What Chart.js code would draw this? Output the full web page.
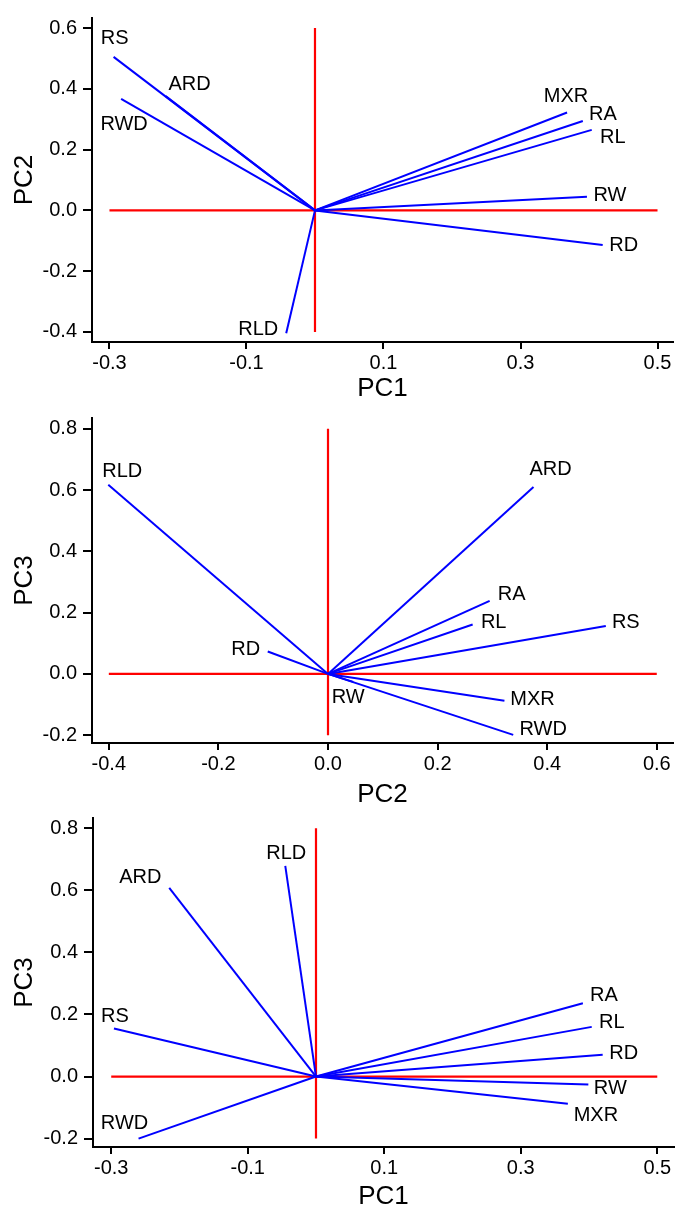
<!DOCTYPE html>
<html>
<head>
<meta charset="utf-8">
<script src="https://cdn.jsdelivr.net/npm/chart.js@4"></script>
<style>
  body { margin: 0; background: #fff; width: 676px; height: 1209px; overflow: hidden; position: relative; }
  canvas { position: absolute; left: 0; }
</style>
</head>
<body>
<canvas id="c1" width="676" height="404" style="top:0px"></canvas>
<canvas id="c2" width="676" height="410" style="top:400px"></canvas>
<canvas id="c3" width="676" height="409" style="top:800px"></canvas>
<script>
// loadings, top panel (PC1 vs PC2)
const varsTop = ['RS', 'ARD', 'RWD', 'MXR', 'RA', 'RL', 'RW', 'RD', 'RLD']
const pc1Top = [-0.294, -0.218, -0.283, 0.368, 0.391, 0.404, 0.397, 0.420, -0.042]
const pc2Top = [0.505, 0.376, 0.367, 0.322, 0.294, 0.265, 0.045, -0.114, -0.404]

// middle panel (PC2 vs PC3)
const varsMid = ['RLD', 'ARD', 'RA', 'RL', 'RS', 'RD', 'RW', 'MXR', 'RWD']
const pc2Mid = [-0.401, 0.375, 0.295, 0.264, 0.507, -0.110, 0.046, 0.322, 0.338]
const pc3Mid = [0.617, 0.610, 0.238, 0.161, 0.156, 0.073, -0.026, -0.088, -0.199]

// bottom panel (PC1 vs PC3)
const varsBot = ['RLD', 'ARD', 'RS', 'RWD', 'RA', 'RL', 'RD', 'RW', 'MXR']
const pc1Bot = [-0.045, -0.215, -0.296, -0.260, 0.391, 0.404, 0.420, 0.399, 0.369]
const pc3Bot = [0.679, 0.608, 0.155, -0.200, 0.236, 0.160, 0.070, -0.026, -0.088]

// tick values
const ticksPC1 = [-0.3, -0.1, 0.1, 0.3, 0.5]
const ticksPC2 = [-0.4, -0.2, 0.0, 0.2, 0.4, 0.6]
const ticksPC3 = [-0.2, 0.0, 0.2, 0.4, 0.6, 0.8]

const family = '"Liberation Sans", Arial, sans-serif'

function biplot(id, o) {
    const canvas = document.getElementById(id)
    const H = canvas.height
    const xEnds = [o.xTicks[0], o.xTicks[o.xTicks.length - 1]]
    const yEnds = [o.yTicks[0], o.yTicks[o.yTicks.length - 1]]

    const datasets = [
        { data: xEnds.map(v => ({ x: v, y: 0 })), borderColor: '#ff0000', borderWidth: 2.2, order: 2 },
        { data: yEnds.map(v => ({ x: 0, y: v })), borderColor: '#ff0000', borderWidth: 2.2, order: 2 }
    ]
    o.names.forEach((n, i) => {
        datasets.push({
            label: n,
            data: [{ x: 0, y: 0 }, { x: o.xs[i], y: o.ys[i] }],
            borderColor: '#0000ff',
            borderWidth: 2,
            order: 1
        })
    })

    const labelPlugin = {
        id: 'vectorLabels',
        afterDatasetsDraw(chart) {
            const { ctx, scales: { x, y } } = chart
            ctx.save()
            ctx.font = '20px ' + family
            ctx.fillStyle = '#000'
            ctx.textAlign = 'center'
            ctx.textBaseline = 'middle'
            o.names.forEach((n, i) => {
                const px = x.getPixelForValue(o.xs[i]) + o.offsets[i][0]
                const py = y.getPixelForValue(o.ys[i]) + o.offsets[i][1]
                ctx.fillText(n, px, py)
            })
            ctx.restore()
        }
    }

    const axis = (ticks, title, lh, tickLen, pad) => ({
        type: 'linear',
        afterBuildTicks: s => { s.ticks = ticks.map(v => ({ value: v })) },
        ticks: {
            callback: v => Number(v).toFixed(1),
            color: '#000',
            font: { size: 20, family },
            padding: pad,
            maxRotation: 0,
            autoSkip: false
        },
        grid: { drawOnChartArea: false, drawTicks: true, tickLength: tickLen, color: '#000', lineWidth: 2 },
        border: { display: true, color: '#000', width: 2 },
        title: { display: true, text: title, color: '#000', padding: 0, font: { size: 26, family, lineHeight: lh } }
    })

    const xAxis = axis(o.xTicks, o.xTitle, o.xTitleLH, 7, 2)
    xAxis.min = o.xMin
    xAxis.max = o.xMax
    xAxis.afterFit = s => { s.height = H - o.area.bottom }
    const yAxis = axis(o.yTicks, o.yTitle, '50px', 9, 6)
    yAxis.min = o.yMin
    yAxis.max = o.yMax
    yAxis.afterFit = s => { s.width = o.area.left }

    return new Chart(canvas, {
        type: 'scatter',
        data: { datasets },
        options: {
            responsive: false,
            animation: false,
            devicePixelRatio: 1,
            showLine: true,
            elements: { point: { radius: 0 }, line: { fill: false, tension: 0 } },
            layout: { padding: { top: o.area.top, right: 676 - o.area.right, left: 0, bottom: 0 } },
            scales: { x: xAxis, y: yAxis },
            plugins: { legend: { display: false }, tooltip: { enabled: false } }
        },
        plugins: [labelPlugin]
    })
}

biplot('c1', {
    names: varsTop, xs: pc1Top, ys: pc2Top,
    offsets: [[1, -18], [24, -12], [3, 26], [-1, -16], [20, -7], [21, 8], [23, -1], [21, 0], [-28, -4]],
    xTicks: ticksPC1, yTicks: ticksPC2,
    xMin: -0.3255, xMax: 0.5226, yMin: -0.433, yMax: 0.633,
    xTitle: 'PC1', yTitle: 'PC2', xTitleLH: '30px',
    area: { top: 16, bottom: 342, left: 92, right: 673 }
})

biplot('c2', {
    names: varsMid, xs: pc2Mid, ys: pc3Mid,
    offsets: [[14, -13], [17, -17], [22, -6], [21, -2], [20, -4], [-22, -2], [-5, 16], [28, -1], [30, -5]],
    xTicks: ticksPC2, yTicks: ticksPC3,
    xMin: -0.4307, xMax: 0.6296, yMin: -0.2255, yMax: 0.835,
    xTitle: 'PC2', yTitle: 'PC3', xTitleLH: '30px',
    area: { top: 16, bottom: 343, left: 92, right: 673 }
})

biplot('c3', {
    names: varsBot, xs: pc1Bot, ys: pc3Bot,
    offsets: [[1, -12], [-29, -10], [1, -12], [-14, -15], [21, -8], [20, -4], [21, -1], [22, 4], [28, 12]],
    xTicks: ticksPC1, yTicks: ticksPC3,
    xMin: -0.3267, xMax: 0.5245, yMin: -0.227, yMax: 0.833,
    xTitle: 'PC1', yTitle: 'PC3', xTitleLH: '25px',
    area: { top: 18, bottom: 347, left: 93, right: 674 }
})
</script>
</body>
</html>
